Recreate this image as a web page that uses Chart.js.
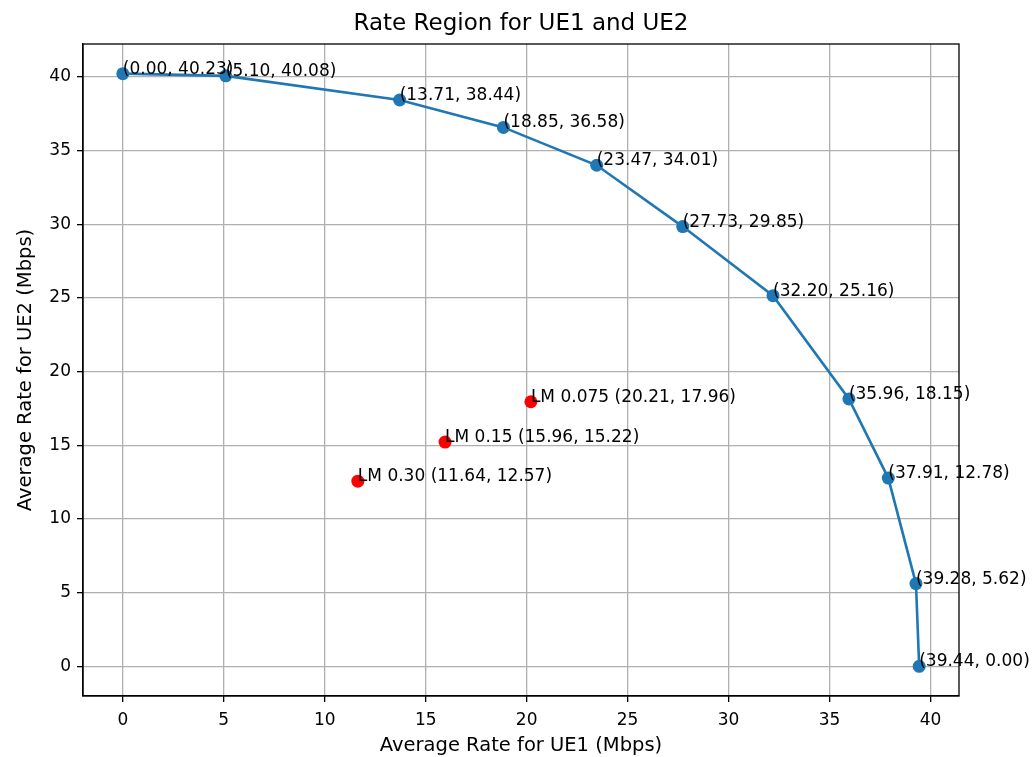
<!DOCTYPE html>
<html>
<head>
<meta charset="utf-8">
<script src="https://cdn.jsdelivr.net/npm/chart.js@4/dist/chart.umd.min.js"></script>
<style>
    body { margin: 0; background: #fff; }
    #wrap { width: 1033px; height: 757px; }
</style>
</head>
<body>
<div id="wrap"><canvas id="rateChart" width="1033" height="757"></canvas></div>
<script>
// rate region frontier (UE1, UE2) in Mbps
const ue1Rates = [0.00, 5.10, 13.71, 18.85, 23.47, 27.73, 32.20, 35.96, 37.91, 39.28, 39.44];
const ue2Rates = [40.23, 40.08, 38.44, 36.58, 34.01, 29.85, 25.16, 18.15, 12.78, 5.62, 0.00];

// LM operating points
const lmNames = ['LM 0.30', 'LM 0.15', 'LM 0.075'];
const lmUe1 = [11.64, 15.96, 20.21];
const lmUe2 = [12.57, 15.22, 17.96];

const xTicks = [0, 5, 10, 15, 20, 25, 30, 35, 40];
const yTicks = [0, 5, 10, 15, 20, 25, 30, 35, 40];

const font = 'DejaVu Sans';

function pad5(min, max) {
    const m = (max - min) * 0.05;
    return [min - m, max + m];
}

const allX = ue1Rates.concat(lmUe1);
const allY = ue2Rates.concat(lmUe2);
const [xMin, xMax] = pad5(Math.min(...allX), Math.max(...allX));
const [yMin, yMax] = pad5(Math.min(...allY), Math.max(...allY));

const frontier = ue1Rates.map((x, i) => ({ x, y: ue2Rates[i] }));
const lmPoints = lmUe1.map((x, i) => ({ x, y: lmUe2[i] }));

const labelPlugin = {
    id: 'labels',
    afterDatasetsDraw(chart) {
        const ctx = chart.ctx;
        const xs = chart.scales.x, ys = chart.scales.y;
        ctx.save();
        ctx.fillStyle = '#000';
        ctx.font = `17px "${font}"`;
        ctx.textAlign = 'left';
        ctx.textBaseline = 'alphabetic';
        ue1Rates.forEach((x, i) => {
            ctx.fillText(`(${x.toFixed(2)}, ${ue2Rates[i].toFixed(2)})`, xs.getPixelForValue(x), ys.getPixelForValue(ue2Rates[i]));
        });
        lmUe1.forEach((x, i) => {
            ctx.fillText(`${lmNames[i]} (${x.toFixed(2)}, ${lmUe2[i].toFixed(2)})`, xs.getPixelForValue(x), ys.getPixelForValue(lmUe2[i]));
        });
        ctx.restore();
    },
    afterDraw(chart) {
        const ctx = chart.ctx;
        const a = chart.chartArea;
        ctx.save();
        ctx.strokeStyle = '#000';
        ctx.lineWidth = 1.3;
        ctx.strokeRect(a.left, a.top, a.right - a.left, a.bottom - a.top);

        ctx.fillStyle = '#000';
        ctx.textAlign = 'center';
        ctx.textBaseline = 'alphabetic';
        const cx = (a.left + a.right) / 2;
        ctx.font = `23px "${font}"`;
        ctx.fillText('Rate Region for UE1 and UE2', cx, 30);
        ctx.font = `19.5px "${font}"`;
        ctx.fillText('Average Rate for UE1 (Mbps)', cx, 751);
        ctx.translate(31, (a.top + a.bottom) / 2);
        ctx.rotate(-Math.PI / 2);
        ctx.fillText('Average Rate for UE2 (Mbps)', 0, 0);
        ctx.restore();
    }
};

const gridOpts = {
    color: '#b0b0b0',
    lineWidth: 1.3,
    tickColor: '#000',
    tickLength: 6,
    drawTicks: true
};

new Chart(document.getElementById('rateChart'), {
    type: 'scatter',
    data: {
        datasets: [
            {
                label: 'Rate region',
                data: frontier,
                showLine: true,
                borderColor: '#1f77b4',
                backgroundColor: '#1f77b4',
                borderWidth: 2.6,
                pointRadius: 6.5,
                pointBorderWidth: 0,
                tension: 0,
                order: 2
            },
            {
                label: 'LM',
                data: lmPoints,
                backgroundColor: '#ff0000',
                borderColor: '#ff0000',
                pointRadius: 6.5,
                pointBorderWidth: 0,
                order: 1
            }
        ]
    },
    options: {
        responsive: false,
        animation: false,
        layout: { padding: { top: 44, right: 74, bottom: 0, left: 0 } },
        plugins: {
            legend: { display: false },
            tooltip: { enabled: false },
            title: { display: false }
        },
        scales: {
            x: {
                type: 'linear',
                min: xMin,
                max: xMax,
                afterFit(scale) { scale.height = 61; },
                afterBuildTicks(scale) { scale.ticks = xTicks.map(v => ({ value: v })); },
                border: { color: '#000', width: 1.3 },
                grid: gridOpts,
                ticks: { color: '#000', padding: 8, maxRotation: 0, font: { family: font, size: 17 } }
            },
            y: {
                type: 'linear',
                min: yMin,
                max: yMax,
                afterFit(scale) { scale.width = 83; },
                afterBuildTicks(scale) { scale.ticks = yTicks.map(v => ({ value: v })); },
                border: { color: '#000', width: 1.3 },
                grid: gridOpts,
                ticks: { color: '#000', padding: 6, font: { family: font, size: 17 } }
            }
        }
    },
    plugins: [labelPlugin]
});
</script>
</body>
</html>
